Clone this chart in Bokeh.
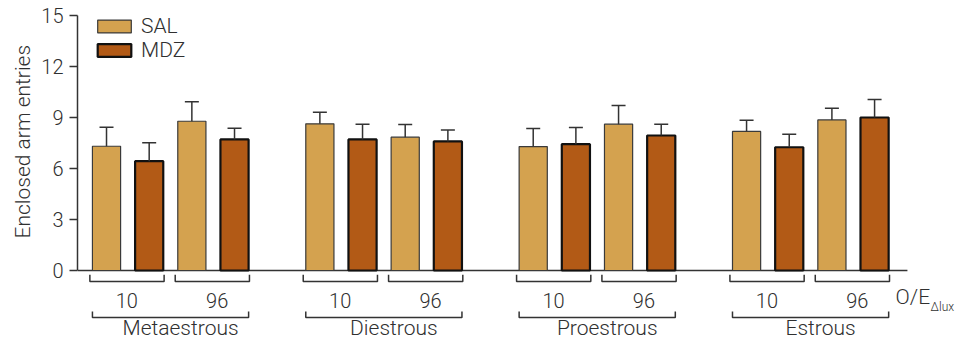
from bokeh.plotting import figure
from bokeh.models import (Range1d, FixedTicker, Whisker, TeeHead, ColumnDataSource,
                          Legend, LegendItem, Title)
from bokeh.core.properties import value
from bokeh.embed import file_html
from bokeh.resources import INLINE

# ---------------- data ----------------
phases = ["Metaestrous", "Diestrous", "Proestrous", "Estrous"]
oe_levels = ["10", "96"]
treatments = ["SAL", "MDZ"]
# order: Meta10, Meta96, Di10, Di96, Pro10, Pro96, Es10, Es96
sal_mean = [7.31, 8.78, 8.63, 7.84, 7.29, 8.61, 8.18, 8.86]
sal_sem = [1.12, 1.14, 0.68, 0.75, 1.06, 1.10, 0.66, 0.69]
mdz_mean = [6.43, 7.71, 7.71, 7.59, 7.43, 7.94, 7.25, 9.00]
mdz_sem = [1.08, 0.66, 0.90, 0.68, 0.98, 0.67, 0.77, 1.06]
y_ticks = [0, 3, 6, 9, 12, 15]
y_label = "Enclosed arm entries"
oe_label = "O/E"
oe_sub = "Δlux"

# ---------------- layout ----------------
W, H = 955, 342
LEFT = 77
PX_X = 42.67
PX_Y = 17.0
TOP_PAD = 15
FONT = "Roboto Light"
TXT = "#303030"
LINE = "#333333"
SAL_FILL = "#D4A24F"
MDZ_FILL = "#B25A16"
BAR_W = 0.66

n = len(phases) * len(oe_levels)
pair_x = [5 * i + 2 * j for i in range(len(phases)) for j in range(len(oe_levels))]
x_sal = pair_x
x_mdz = [x + 1 for x in pair_x]

x0 = -0.68
x1 = x0 + (W - LEFT) / PX_X
ytop = y_ticks[-1] + TOP_PAD / PX_Y
ybot = ytop - H / PX_Y

p = figure(width=W, height=H, x_range=Range1d(x0, x1), y_range=Range1d(ybot, ytop),
           output_backend="svg", toolbar_location=None, x_axis_location=None,
           min_border_left=LEFT, min_border_right=0, min_border_top=0, min_border_bottom=0)
p.outline_line_color = None
p.grid.visible = False
p.background_fill_color = "white"

# y axis
ax = p.yaxis[0]
ax.bounds = (y_ticks[0], y_ticks[-1])
ax.ticker = FixedTicker(ticks=y_ticks)
ax.minor_tick_line_color = None
ax.major_tick_out = 8
ax.major_tick_in = 0
ax.major_tick_line_color = LINE
ax.major_tick_line_width = 1.5
ax.axis_line_color = LINE
ax.axis_line_width = 1.5
ax.major_label_text_font = FONT
ax.major_label_text_font_size = "20px"
ax.major_label_text_color = TXT
ax.major_label_standoff = 6

# y axis title (as a side title so it can be shifted along the axis)
p.add_layout(Title(text=y_label, align="left", offset=104, standoff=7,
                   text_font=FONT, text_font_size="21px", text_font_style="normal",
                   text_color=TXT), "left")

# x axis line at y=0
p.segment(x0=[x0], y0=[0], x1=[x_mdz[-1] + 0.77], y1=[0], line_color=LINE, line_width=1.5)

# bars
r_sal = p.vbar(x=x_sal, top=sal_mean, bottom=0, width=BAR_W, fill_color=SAL_FILL,
               line_color="#3a3a3a", line_width=1.2)
r_mdz = p.vbar(x=x_mdz, top=mdz_mean, bottom=0, width=BAR_W, fill_color=MDZ_FILL,
               line_color="#111111", line_width=2.2)

# error bars (upper only)
for xs, m, s in ((x_sal, sal_mean, sal_sem), (x_mdz, mdz_mean, mdz_sem)):
    src = ColumnDataSource(dict(x=xs, lower=m, upper=[a + b for a, b in zip(m, s)]))
    w = Whisker(source=src, base="x", lower="lower", upper="upper", dimension="height",
                lower_head=None,
                upper_head=TeeHead(size=14, line_color=LINE, line_width=1.5),
                line_color=LINE, line_width=1.5, level="glyph")
    p.add_layout(w)

# small brackets under each O/E pair
sb_top, sb_bot = -4.3 / PX_Y, -11 / PX_Y
xs_b, ys_b = [], []
for a, b in zip(x_sal, x_mdz):
    l, r = a - BAR_W / 2 - 0.06, b + BAR_W / 2 + 0.02
    xs_b.append([l, l, r, r]); ys_b.append([sb_top, sb_bot, sb_bot, sb_top])
# big brackets per phase
bb_top, bb_bot = -41 / PX_Y, -47 / PX_Y
for i in range(len(phases)):
    l = x_sal[2 * i] - BAR_W / 2
    r = x_mdz[2 * i + 1] + BAR_W / 2
    xs_b.append([l, l, r, r]); ys_b.append([bb_top, bb_bot, bb_bot, bb_top])
p.multi_line(xs=xs_b, ys=ys_b, line_color=LINE, line_width=1.5)

# O/E level labels
oe_txt = [oe_levels[k % 2] for k in range(n)]
oe_x = [(a + b) / 2 for a, b in zip(x_sal, x_mdz)]
oe_off = [-1 if k % 2 == 0 else 4 for k in range(n)]
p.text(x=oe_x, y=[-30 / PX_Y] * n, text=oe_txt, x_offset=oe_off,
       text_align="center", text_baseline="middle", text_font=value(FONT),
       text_font_size="20px", text_color=TXT)

# phase labels
ph_x = [(x_sal[2 * i] + x_mdz[2 * i + 1]) / 2 for i in range(len(phases))]
p.text(x=ph_x, y=[-57.5 / PX_Y] * len(phases), text=phases, x_offset=10,
       text_align="center", text_baseline="middle", text_font=value(FONT),
       text_font_size="21px", text_color=TXT)

# O/E delta-lux label
p.text(x=[x_mdz[-1]], y=[-26 / PX_Y], text=[oe_label], x_offset=21,
       text_align="left", text_baseline="middle", text_font=value(FONT),
       text_font_size="21px", text_color=TXT)
p.text(x=[x_mdz[-1]], y=[-36 / PX_Y], text=[oe_sub], x_offset=56,
       text_align="left", text_baseline="middle", text_font=value(FONT),
       text_font_size="12px", text_color=TXT)

# legend
legend = Legend(items=[LegendItem(label=treatments[0], renderers=[r_sal]),
                       LegendItem(label=treatments[1], renderers=[r_mdz])],
                location=(16, 280), border_line_color=None, background_fill_alpha=0,
                glyph_width=42, glyph_height=16, label_standoff=6, spacing=-3,
                padding=0, margin=0, label_height=16,
                label_text_font=FONT, label_text_font_size="21px", label_text_color=TXT)
p.add_layout(legend)

open("out.html", "w").write(file_html(p, INLINE))
